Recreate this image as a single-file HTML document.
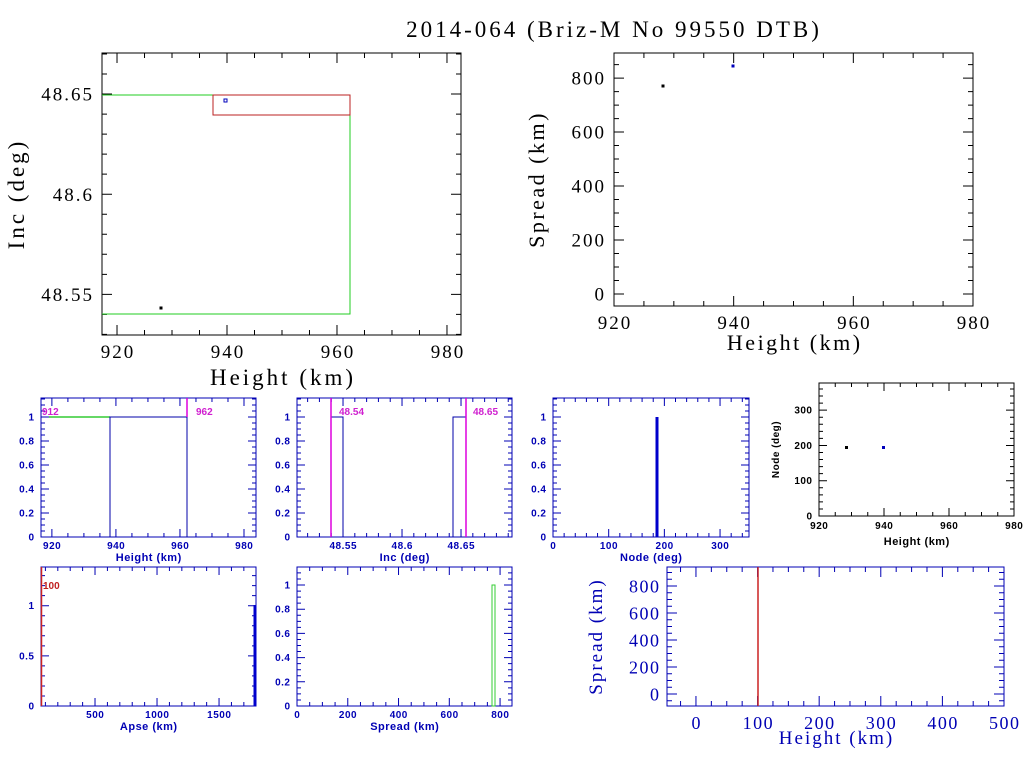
<!DOCTYPE html>
<html><head><meta charset="utf-8"><style>
html,body{margin:0;padding:0;background:#fff;}
svg{display:block;}
</style></head><body>
<svg id="s" xmlns="http://www.w3.org/2000/svg" width="1024" height="768" viewBox="0 0 1024 768" font-family="'Liberation Serif', serif">
<rect width="1024" height="768" fill="#fff"/>
</svg>
<script>
const S=document.getElementById('s');let out='';
function P(o){
 const X=v=>o.x0+(v-o.xa)/(o.xb-o.xa)*(o.x1-o.x0);
 const Y=v=>o.y1-(v-o.ya)/(o.yb-o.ya)*(o.y1-o.y0);
 o.X=X;o.Y=Y;
 let c=o.c, L=o.tl||10, l=o.tl?o.tl/2:5;
 let g=`<g stroke="${c}" stroke-width="${o.sw||1}" fill="none">`;
 g+=`<rect x="${o.x0}" y="${o.y0}" width="${o.x1-o.x0}" height="${o.y1-o.y0}"/>`;
 const eps=1e-9;
 let st=Math.ceil(o.xa/o.xm-eps);
 for(let k=st;k*o.xm<=o.xb+eps;k++){let v=k*o.xm,x=X(v);let maj=Math.abs(v/o.xM-Math.round(v/o.xM))<1e-6;let t=maj?L:l;
  g+=`<path d="M${x} ${o.y1}v${-t}M${x} ${o.y0}v${t}"/>`;}
 st=Math.ceil(o.ya/o.ym-eps);
 for(let k=st;k*o.ym<=o.yb+eps;k++){let v=k*o.ym,y=Y(v);let maj=Math.abs(v/o.yM-Math.round(v/o.yM))<1e-6;let t=maj?L:l;
  g+=`<path d="M${o.x0} ${y}h${t}M${o.x1} ${y}h${-t}"/>`;}
 g+='</g>';
 let fs=o.fs, tc=o.tc||c, fw=o.fw||'normal', ff=o.ff||"'Liberation Serif', serif", ls=o.ls||0, tls=o.tls||0;
 g+=`<g fill="${tc}" font-size="${fs}" font-weight="${fw}" font-family="${ff}">`;
 o.xl.forEach(v=>{g+=`<text x="${X(v)+ls/2}" y="${o.y1+fs+(o.xo||2)}" text-anchor="middle" letter-spacing="${ls}">${o.xf?o.xf(v):v}</text>`});
 o.yl.forEach(v=>{g+=`<text x="${o.x0-(o.yo||6)+ls}" y="${Y(v)+fs*0.35}" text-anchor="end" letter-spacing="${ls}">${o.yf?o.yf(v):v}</text>`});
 if(o.xt)g+=`<text x="${(o.x0+o.x1)/2+tls/2}" y="${o.y1+o.xtY}" font-size="${o.xts}" text-anchor="middle" letter-spacing="${tls}">${o.xt}</text>`;
 if(o.yt)g+=`<text transform="translate(${o.ytX},${(o.y0+o.y1)/2}) rotate(-90)" font-size="${o.yts}" text-anchor="middle" letter-spacing="${tls}">${o.yt}</text>`;
 g+='</g>';
 out+=g;return o;
}
const B='#0000b4', SB="'Liberation Sans', sans-serif";
out+=`<text x="614" y="37" font-size="23" text-anchor="middle" fill="#000" letter-spacing="3">2014-064 (Briz-M No 99550 DTB)</text>`;
// top-left
P({x0:102,y0:53,x1:461,y1:335,xa:917.27,xb:982.55,ya:48.5297,yb:48.6705,xm:5,xM:20,ym:0.01,yM:0.05,c:'#000',fs:19,ls:2,tls:3,
 xl:[920,940,960,980],yl:[48.55,48.6,48.65],xt:'Height (km)',xtY:50,xts:23,yt:'Inc (deg)',ytX:24,yts:23,yo:10,xo:4});
out+=`<path d="M102 95H213M350 115V314H102" stroke="#2c2" fill="none"/>`;
out+=`<rect x="213" y="95" width="137" height="20" stroke="#b22" fill="none"/>`;
out+=`<rect x="224" y="99" width="3" height="3" stroke="#00b" fill="none" stroke-width="1"/>`;
out+=`<rect x="159.5" y="306.5" width="3" height="3" fill="#000"/>`;
// top-right
P({x0:614,y0:53,x1:973,y1:306,xa:920,xb:980,ya:-44.7,yb:893,xm:5,xM:20,ym:50,yM:200,c:'#000',fs:19,ls:2,tls:2.5,
 xl:[920,940,960,980],yl:[0,200,400,600,800],xt:'Height (km)',xtY:44,xts:22,yt:'Spread (km)',ytX:544,yts:22,yo:10,xo:4});
out+=`<rect x="661.5" y="84.5" width="3" height="3" fill="#000"/><rect x="731.5" y="64.5" width="3" height="3" fill="#00b"/>`;
// small
let sm={fs:10,fw:'bold',ff:SB,c:B,tl:8,xts:11,xtY:24,yo:7,ls:0.5,tls:0.5};
P(Object.assign({},sm,{x0:41,y0:398,x1:256,y1:537,xa:916.6,xb:983.75,ya:0,yb:1.158,xm:5,xM:20,ym:0.05,yM:0.2,
 xl:[920,940,960,980],yl:[0,0.2,0.4,0.6,0.8,1],xt:'Height (km)'}));
out+=`<path d="M49 417H110" stroke="#3c3" stroke-width="1.5"/><path d="M110 537V417H187V537" stroke="#00a" fill="none"/>
<path d="M187 398V417" stroke="#d0d" stroke-width="1.5"/>
<g font-family="${SB}" font-size="10" font-weight="bold" fill="#d020d0"><text x="42" y="415">912</text><text x="196" y="415">962</text></g>`;
P(Object.assign({},sm,{x0:297,y0:398,x1:512,y1:537,xa:48.511,xb:48.6932,ya:0,yb:1.158,xm:0.01,xM:0.05,ym:0.05,yM:0.2,
 xl:[48.55,48.6,48.65],yl:[0,0.2,0.4,0.6,0.8,1],xt:'Inc (deg)'}));
out+=`<path d="M331 537V417H343V537M453 537V417H466" stroke="#00a" fill="none"/>
<path d="M331 398V537M466 398V537" stroke="#d0d" stroke-width="1.5"/>
<g font-family="${SB}" font-size="10" font-weight="bold" fill="#d020d0"><text x="339" y="415">48.54</text><text x="473" y="415">48.65</text></g>`;
P(Object.assign({},sm,{x0:553,y0:398,x1:749,y1:537,xa:0,xb:352,ya:0,yb:1.158,xm:20,xM:100,ym:0.05,yM:0.2,
 xl:[0,100,200,300],yl:[0,0.2,0.4,0.6,0.8,1],xt:'Node (deg)'}));
out+=`<path d="M657 537V417" stroke="#00c" stroke-width="3"/>`;
P({x0:819,y0:383,x1:1014,y1:516,xa:920,xb:980,ya:0,yb:377,xm:5,xM:20,ym:20,yM:100,c:'#000',fs:10,fw:'bold',ff:SB,tl:8,ls:0.5,tls:0.5,
 xl:[920,940,960,980],yl:[0,100,200,300],xt:'Height (km)',xtY:29,xts:11,yt:'Node (deg)',ytX:779,yts:10,yo:7,xo:3});
out+=`<rect x="845" y="446" width="3" height="3" fill="#000"/><rect x="882" y="446" width="3" height="3" fill="#00b"/>`;
P(Object.assign({},sm,{x0:41,y0:567,x1:256,y1:706,xa:64.5,xb:1798,ya:0,yb:1.386,xm:100,xM:500,ym:0.1,yM:0.5,
 xl:[500,1000,1500],yl:[0,0.5,1],xt:'Apse (km)'}));
out+=`<path d="M41.5 567V706" stroke="#c22" stroke-width="1.5"/><path d="M255 605V706" stroke="#00c" stroke-width="3"/>
<text x="43" y="589" font-family="${SB}" font-size="10" font-weight="bold" fill="#c02020">100</text>`;
P(Object.assign({},sm,{x0:297,y0:567,x1:512,y1:706,xa:0,xb:847,ya:0,yb:1.149,xm:50,xM:200,ym:0.05,yM:0.2,
 xl:[0,200,400,600,800],yl:[0,0.2,0.4,0.6,0.8,1],xt:'Spread (km)'}));
out+=`<rect x="492" y="585" width="3" height="121" stroke="#3c3" fill="none"/>`;
P({x0:667,y0:567,x1:1004,y1:706,xa:-47,xb:500,ya:-89,yb:941,xm:25,xM:100,ym:50,yM:200,c:B,fs:18,tl:10,ls:1.5,tls:2,
 xl:[0,100,200,300,400,500],yl:[0,200,400,600,800],xt:'Height (km)',xtY:38,xts:19,yt:'Spread (km)',ytX:602,yts:19,yo:8,xo:5});
out+=`<path d="M758 567V706" stroke="#c22" stroke-width="1.5"/>`;
S.insertAdjacentHTML('beforeend',out);
</script>
</body></html>
